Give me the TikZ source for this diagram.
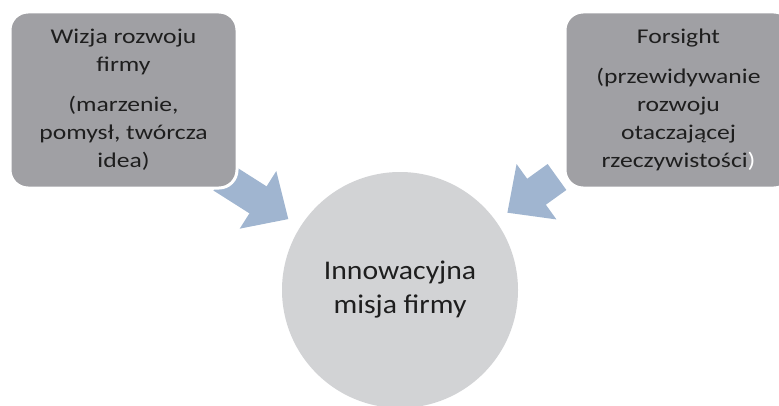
\documentclass[tikz,border=0pt]{standalone}
\usepackage{fontspec}
\setmainfont{Carlito}
\newfontfamily\ideafont[FakeStretch=1.22]{Carlito}
\newfontfamily\missionfont[FakeStretch=1.1]{Carlito}
\usetikzlibrary{arrows.meta}
\definecolor{boxgrey}{RGB}{160,160,164}
\definecolor{circlegrey}{RGB}{210,211,213}
\definecolor{arrowblue}{RGB}{160,181,208}
\definecolor{textdark}{RGB}{30,30,30}
\begin{document}
\begin{tikzpicture}[x=1pt,y=1pt,
    idea/.style={draw=white,line width=3pt,fill=boxgrey,rounded corners=18pt,
      minimum width=227pt,minimum height=176pt,align=center,text=textdark,
      font=\ideafont\fontsize{21}{28}\selectfont},
    mission/.style={circle,fill=circlegrey,minimum size=236pt,align=center,
      text=textdark,font=\missionfont\fontsize{27}{34}\selectfont},
    blockarrow/.style={draw=arrowblue,line width=32pt,
      -{Triangle[width=66pt,length=36pt]},shorten >=14pt}]
  \useasboundingbox (0,0) rectangle (779,405);
  \node[mission] (misja) at (400,115) {Innowacyjna\\misja firmy};
  % arrows go under the boxes
  \coordinate (wizjatail) at (222,228);
  \coordinate (forsighttail) at (557,228);
  \draw[blockarrow] (wizjatail) -- (misja);
  \draw[blockarrow] (forsighttail) -- (misja);
  \node[idea] (wizja) at (123.5,305)
    {Wizja rozwoju\\firmy\\[12pt](marzenie,\\pomysł, twórcza\\idea)};
  \node[idea] (forsight) at (678.5,305)
    {Forsight\\[12pt](przewidywanie\\rozwoju\\otaczającej\\rzeczywistości\textcolor{white}{)}};
\end{tikzpicture}
\end{document}
